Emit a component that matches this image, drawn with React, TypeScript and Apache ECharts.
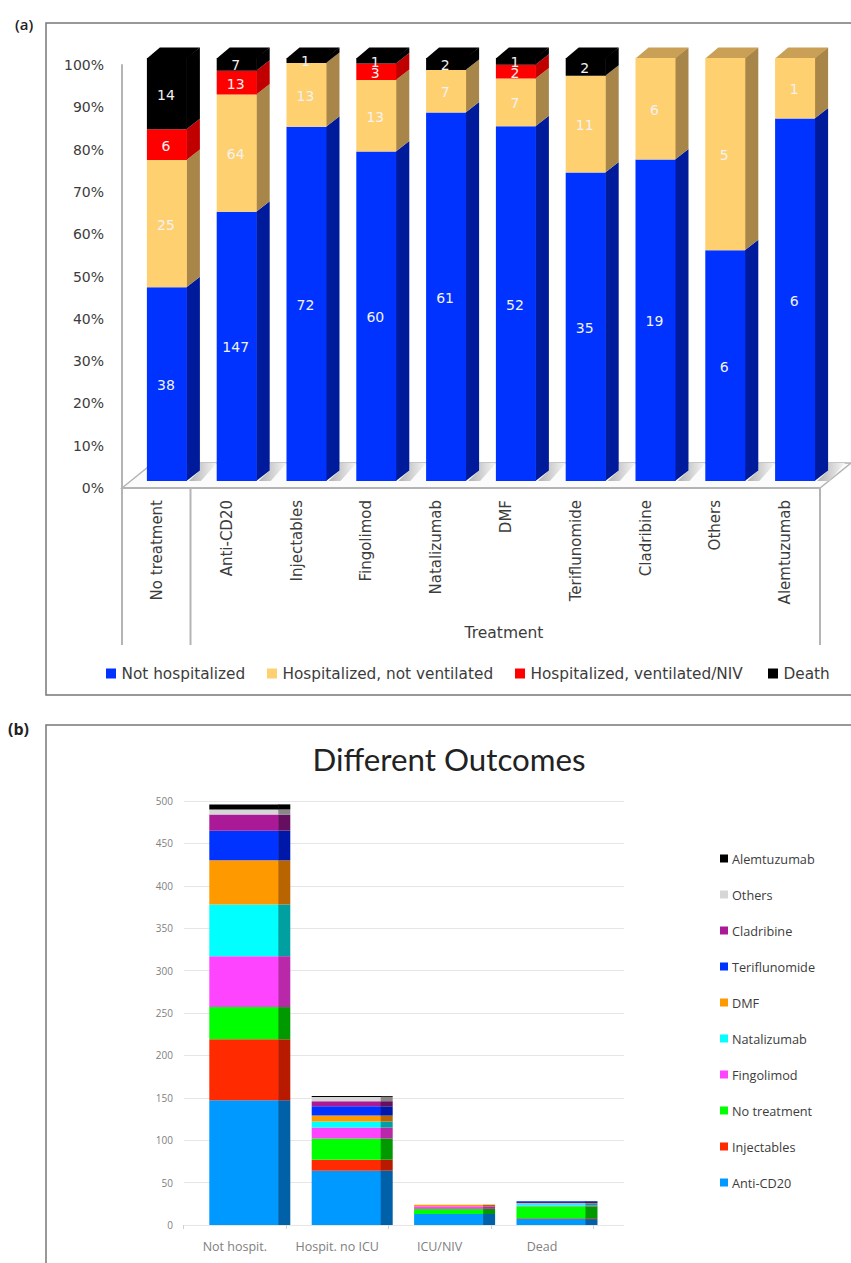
import React, { useEffect, useRef } from "react";
import * as echarts from "echarts";

const treatments = ["No treatment", "Anti-CD20", "Injectables", "Fingolimod", "Natalizumab", "DMF", "Teriflunomide", "Cladribine", "Others", "Alemtuzumab"];
const notHospitalized = [38, 147, 72, 60, 61, 52, 35, 19, 6, 6];
const hospNotVentilated = [25, 64, 13, 13, 7, 7, 11, 6, 5, 1];
const hospVentilated = [6, 13, 0, 3, 0, 2, 0, 0, 0, 0];
const deaths = [14, 7, 1, 1, 2, 1, 2, 0, 0, 0];
const percentTicks = [0, 10, 20, 30, 40, 50, 60, 70, 80, 90, 100];

const outcomeNames = ["Not hospitalized", "Hospitalized, not ventilated", "Hospitalized, ventilated/NIV", "Death"];
const outcomeColors = ["#0033ff", "#ffd070", "#ff0000", "#000000"];
const outcomeSides = ["#001a9c", "#a8864a", "#c00000", "#000000"];
const outcomeTops = ["#0033ff", "#c9a056", "#ff0000", "#000000"];
const legendLeftA = [106, 267, 515, 768];

const outcomeCategories = ["Not hospit.", "Hospit. no ICU", "ICU/NIV", "Dead"];
const stackOrderB = ["Anti-CD20", "Injectables", "No treatment", "Fingolimod", "Natalizumab", "DMF", "Teriflunomide", "Cladribine", "Others", "Alemtuzumab"];
const colorsB = ["#0099ff", "#ff2a00", "#00ff00", "#ff44ff", "#00ffff", "#ff9900", "#0033ff", "#aa1a96", "#d6d6d6", "#000000"];
const sidesB = ["#0060a8", "#b81a00", "#009900", "#b828a8", "#00a0a0", "#b86400", "#0018a8", "#660f60", "#888888", "#000000"];

const rowsA = [notHospitalized, hospNotVentilated, hospVentilated, deaths];
const FONT_A = "DejaVu Sans";
const FONT_B = "Open Sans";

function buildSeriesA(): any[] {
  const totals = treatments.map((_, i) => rowsA.reduce((s, r) => s + r[i], 0));
  return rowsA.map((row, s) => {
    const data = row.map((count, i) => {
      const below = rowsA.slice(0, s).reduce((acc, r) => acc + r[i], 0);
      const low = (below / totals[i]) * 100;
      const high = ((below + count) / totals[i]) * 100;
      return [i, low, high, count, below + count === totals[i] ? 1 : 0];
    });
    return {
      type: "custom",
      name: outcomeNames[s],
      xAxisIndex: 0,
      yAxisIndex: 0,
      clip: false,
      itemStyle: { color: outcomeColors[s] },
      encode: { x: 0, y: [1, 2] },
      data,
      renderItem: (_p: any, api: any) => {
        const count = api.value(3);
        if (!count) return { type: "group", children: [] };
        const a = api.coord([api.value(0), api.value(1)]);
        const b = api.coord([api.value(0), api.value(2)]);
        const x = a[0] + 10;
        const yl = a[1] - 7;
        const yh = b[1] - 7;
        const w = 40, dx = 13, dy = 10.5;
        const xl = x - w / 2, xr = x + w / 2;
        const children: any[] = [];
        if (s === 0) {
          children.push({
            type: "polygon",
            shape: { points: [[xr + 2, yl], [xr + 13, yl - 10.5], [xr + 13, yl - 18], [xr + 30, yl - 18], [xr + 14, yl]] },
            style: { fill: { type: "linear", x: 0, y: 0, x2: 1, y2: 0, colorStops: [{ offset: 0, color: "#b0b0b0" }, { offset: 1, color: "#f6f6f6" }] } },
          });
        }
        children.push({
          type: "polygon",
          shape: { points: [[xr - 0.5, yl], [xr + dx, yl - dy], [xr + dx, yh - dy], [xr - 0.5, yh]] },
          style: { fill: outcomeSides[s] },
        });
        if (api.value(4)) {
          children.push({
            type: "polygon",
            shape: { points: [[xl, yh + 0.5], [xl + dx, yh - dy], [xr + dx, yh - dy], [xr, yh + 0.5]] },
            style: { fill: outcomeTops[s] },
          });
        }
        children.push({
          type: "rect",
          shape: { x: xl, y: yh, width: w, height: yl - yh },
          style: { fill: outcomeColors[s] },
        });
        children.push({
          type: "text",
          z2: 100,
          style: {
            text: String(count),
            x: x - 1,
            y: (yl + yh) / 2 + 1,
            fill: "#f2f2f2",
            font: `14px "${FONT_A}"`,
            align: "center",
            verticalAlign: "middle",
          },
        });
        return { type: "group", children };
      },
    };
  });
}

function buildSeriesB(): any[] {
  return stackOrderB.map((name, s) => {
    const ti = treatments.indexOf(name);
    const data = rowsA.map((row, c) => {
      const below = stackOrderB.slice(0, s).reduce((acc, n) => acc + row[treatments.indexOf(n)], 0);
      return [c, below, below + row[ti]];
    });
    return {
      type: "custom",
      name,
      xAxisIndex: 2,
      yAxisIndex: 2,
      clip: false,
      itemStyle: { color: colorsB[s] },
      encode: { x: 0, y: [1, 2] },
      data,
      renderItem: (_p: any, api: any) => {
        const lo = api.value(1), hi = api.value(2);
        if (hi <= lo) return { type: "group", children: [] };
        const a = api.coord([api.value(0), lo]);
        const b = api.coord([api.value(0), hi]);
        const xl = a[0] - 25.5;
        return {
          type: "group",
          children: [
            { type: "rect", shape: { x: xl, y: b[1], width: 69.5, height: a[1] - b[1] }, style: { fill: colorsB[s] } },
            { type: "rect", shape: { x: xl + 69, y: b[1], width: 12, height: a[1] - b[1] }, style: { fill: sidesB[s] } },
          ],
        };
      },
    };
  });
}

export default function App() {
  const ref = useRef<HTMLDivElement>(null);
  useEffect(() => {
    const chart = echarts.init(ref.current!, undefined, { renderer: "svg" });
    const frame = "#777777";
    const line = "#b4b4b4";
    chart.setOption({
      animation: false,
      backgroundColor: "#ffffff",
      title: {
        text: "Different Outcomes",
        left: 444,
        top: 738,
        textAlign: "center",
        textStyle: { fontFamily: "Lato", fontSize: 31.3, fontWeight: "normal", color: "#222222" },
      },
      grid: [
        { left: 122, top: 65, width: 698, height: 423, containLabel: false },
        { left: 184, top: 801, width: 440, height: 424 },
        { left: 183.6, top: 801, width: 409.6, height: 424 },
      ],
      xAxis: [
        {
          gridIndex: 0,
          type: "category",
          data: treatments,
          axisLine: { lineStyle: { color: line, width: 2 } },
          axisTick: { show: false },
          axisLabel: { rotate: 90, margin: 12, interval: 0, color: "#3c3c3c", fontFamily: FONT_A, fontSize: 15, padding: [3, 0, 0, 0] },
          name: "Treatment",
          nameLocation: "middle",
          nameGap: 137,
          nameTextStyle: { color: "#3c3c3c", fontFamily: FONT_A, fontSize: 15.5, padding: [0, 0, 0, 66] },
        },
        { gridIndex: 1, type: "category", data: outcomeCategories, show: false },
        {
          gridIndex: 2,
          type: "category",
          data: outcomeCategories,
          axisLine: { show: false },
          axisTick: { show: true, length: 4, lineStyle: { color: "#d0d0d0" } },
          axisLabel: { interval: 0, hideOverlap: false, margin: 15, color: "#808080", fontFamily: FONT_B, fontSize: 12.5 },
        },
      ],
      yAxis: [
        {
          gridIndex: 0,
          type: "value",
          min: 0,
          max: 100,
          interval: 10,
          axisLine: { show: true, lineStyle: { color: line, width: 2 } },
          axisTick: { show: false },
          splitLine: { show: false },
          axisLabel: { margin: 18, color: "#3c3c3c", fontFamily: FONT_A, fontSize: 14, formatter: (v: number) => (percentTicks.includes(v) ? `${v}%` : "") },
        },
        {
          gridIndex: 1,
          type: "value",
          min: 0,
          max: 500,
          interval: 50,
          axisLine: { show: false },
          axisTick: { show: false },
          splitLine: { lineStyle: { color: "#e6e6e6", width: 1.2 } },
          axisLabel: { margin: 11, color: "#808080", fontFamily: FONT_B, fontSize: 10 },
        },
        { gridIndex: 2, type: "value", min: 0, max: 500, interval: 50, show: false, splitLine: { show: false } },
      ],
      legend: [
        ...outcomeNames.map((n, i) => ({
          data: [n],
          left: legendLeftA[i],
          top: 666,
          padding: 0,
          icon: "rect",
          itemWidth: 10,
          itemHeight: 10,
          itemGap: 0,
          selectedMode: false,
          textStyle: { color: "#3c3c3c", fontFamily: FONT_A, fontSize: 15.3, padding: [0, 0, 0, 0.5] },
        })),
        {
          data: [...stackOrderB].reverse(),
          orient: "vertical",
          left: 720,
          top: 852,
          padding: 0,
          icon: "rect",
          itemWidth: 8,
          itemHeight: 8,
          itemGap: 23,
          selectedMode: false,
          textStyle: { color: "#3c3c3c", fontFamily: FONT_B, fontSize: 12.7, padding: [0, 0, 0, -1] },
        },
      ],
      graphic: [
        { type: "rect", z: 0, shape: { x: 46, y: 23, width: 830, height: 672 }, style: { fill: "none", stroke: frame, lineWidth: 1.5 } },
        { type: "rect", z: 0, shape: { x: 46, y: 725, width: 830, height: 600 }, style: { fill: "none", stroke: frame, lineWidth: 1.5 } },
        { type: "text", style: { text: "(a)", x: 15, y: 16, fill: "#222222", font: '600 15px "Open Sans"' } },
        { type: "text", style: { text: "(b)", x: 8, y: 721, fill: "#222222", font: 'bold 16px "Open Sans"' } },
        { type: "polygon", z: 0, shape: { points: [[122, 488], [153, 463], [851, 463], [820, 488]] }, style: { fill: "#fbfbfb", stroke: line, lineWidth: 1.5 } },
        { type: "line", z: 0, shape: { x1: 122, y1: 488, x2: 122, y2: 645 }, style: { stroke: line, lineWidth: 2 } },
        { type: "line", z: 0, shape: { x1: 190.5, y1: 488, x2: 190.5, y2: 645 }, style: { stroke: line, lineWidth: 2 } },
        { type: "line", z: 0, shape: { x1: 820, y1: 488, x2: 820, y2: 645 }, style: { stroke: line, lineWidth: 2 } },
      ],
      series: [...buildSeriesA(), ...buildSeriesB()],
    });
    return () => chart.dispose();
  }, []);
  return <div ref={ref} style={{ position: "fixed", left: 0, top: 0, width: 851, height: 1263 }} />;
}
